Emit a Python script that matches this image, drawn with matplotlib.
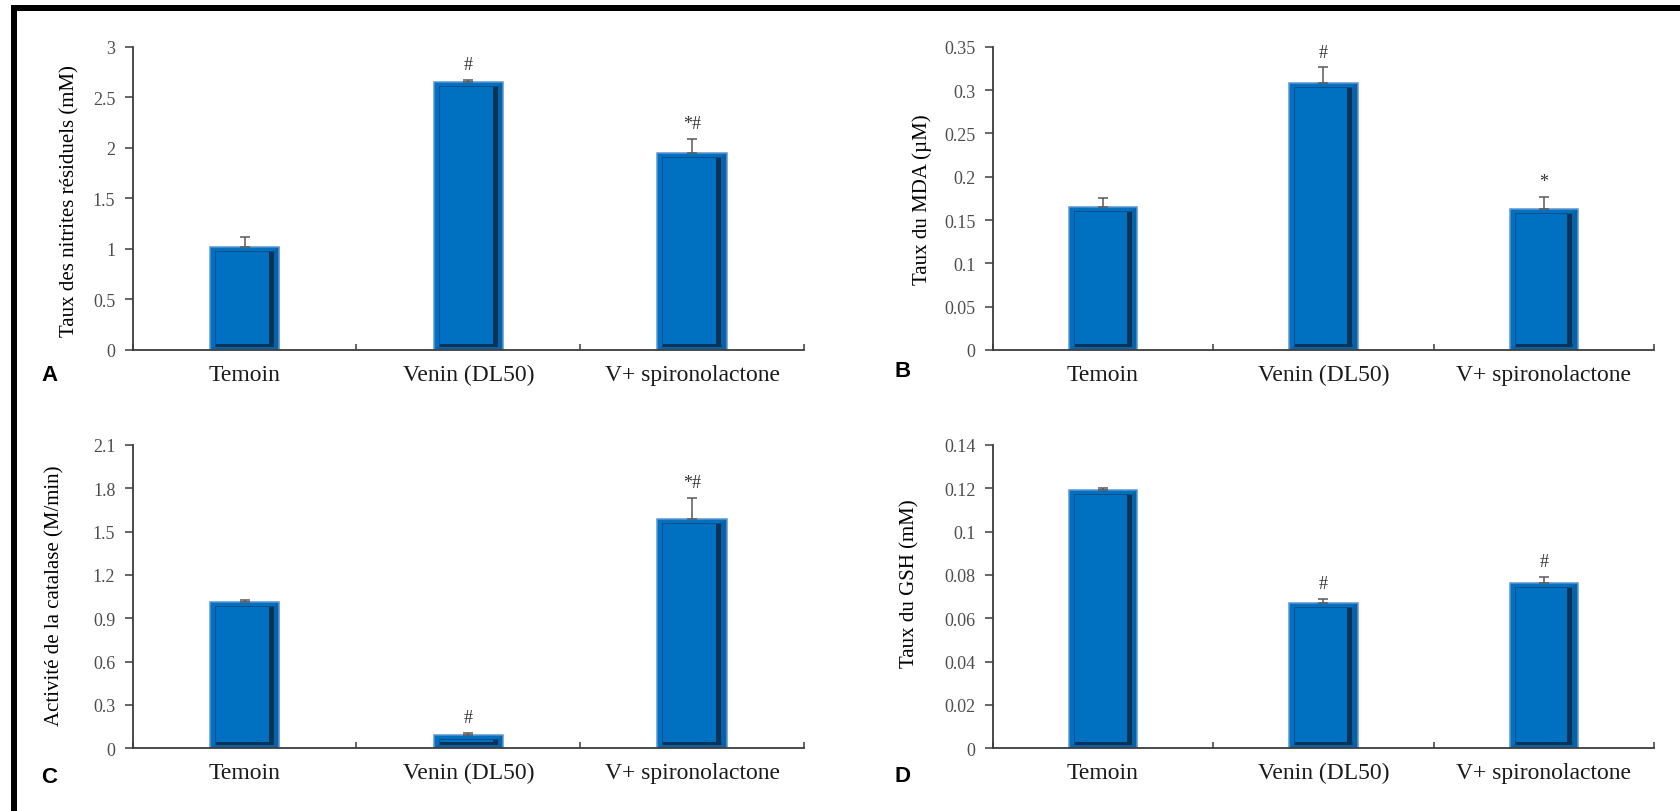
import numpy as np
import matplotlib
matplotlib.use("Agg")
import matplotlib.pyplot as plt
from matplotlib.patches import Polygon, Rectangle
from matplotlib.lines import Line2D
from matplotlib.transforms import IdentityTransform

plt.rcParams["font.family"] = ["Liberation Serif", "DejaVu Serif"]

# ---- data -------------------------------------------------------------
categories = ["Temoin", "Venin (DL50)", "V+ spironolactone"]

nitrites = [1.02, 2.65, 1.95]
nitrites_err = [0.10, 0.02, 0.14]
nitrites_marks = ["", "#", "*#"]
nitrites_ticks = [0, 0.5, 1, 1.5, 2, 2.5, 3]

mda = [0.165, 0.308, 0.163]
mda_err = [0.010, 0.018, 0.014]
mda_marks = ["", "#", "*"]
mda_ticks = [0, 0.05, 0.1, 0.15, 0.2, 0.25, 0.3, 0.35]

catalase = [1.01, 0.09, 1.59]
catalase_err = [0.017, 0.015, 0.14]
catalase_marks = ["", "#", "*#"]
catalase_ticks = [0, 0.3, 0.6, 0.9, 1.2, 1.5, 1.8, 2.1]

gsh = [0.119, 0.067, 0.0765]
gsh_err = [0.0012, 0.002, 0.0025]
gsh_marks = ["", "#", "#"]
gsh_ticks = [0, 0.02, 0.04, 0.06, 0.08, 0.1, 0.12, 0.14]

ylabels = [
    "Taux des nitrites résiduels (mM)",
    "Taux du MDA (µM)",
    "Activité de la catalase (M/min)",
    "Taux du GSH (mM)",
]
panel_letters = ["A", "B", "C", "D"]

# ---- style ------------------------------------------------------------
W, H = 1680, 812
FACE = "#0070C0"
EDGE = "#5d96d2"
RING = "#0862a8"
DARK = "#0b3358"
THIN = "#0d4f8a"
AXIS = "#3c3c3c"
BAR_W = 0.31

fig = plt.figure(figsize=(W / 100, H / 100), dpi=100)


def px_axes(left, top, right, bottom):
    return fig.add_axes([left / W, 1 - bottom / H, (right - left) / W, (bottom - top) / H])


def bevel(ax, bars):
    """Draw the raised-bevel look of each bar in pixel space."""
    ident = IdentityTransform()
    px = 0.72  # points per pixel at 100 dpi
    for r in bars:
        x0, y0, w, h = r.get_x(), r.get_y(), r.get_width(), r.get_height()
        (X0, Y0), (X1, Y1) = ax.transData.transform([(x0, y0), (x0 + w, y0 + h)])
        dr, db, dl, dt = 6, 4, 5, 4
        yb = Y0 + db + 3
        yt = max(Y1 - dt, yb + 1)
        right = [(X1 - dr, Y0 + db), (X1, Y0), (X1, Y1), (X1 - dr, yt)]
        bottom = [(X0, Y0), (X1, Y0), (X1 - dr, Y0 + db), (X0 + dl, Y0 + db)]
        for pts in (right, bottom):
            ax.add_artist(Polygon(pts, closed=True, fc=RING, ec="none",
                                  transform=ident, zorder=2.1))
        # dark inner band along the right and bottom
        ax.add_artist(Line2D([X1 - dr - 2.5] * 2, [Y0 + db, yt], color=DARK,
                             lw=5 * px, transform=ident, zorder=2.2,
                             solid_capstyle="butt"))
        ax.add_artist(Line2D([X0 + dl, X1 - dr], [Y0 + db + 1.5] * 2, color=DARK,
                             lw=3 * px, transform=ident, zorder=2.2,
                             solid_capstyle="butt"))
        # thin inner outline on the left and top
        ax.add_artist(Line2D([X0 + dl] * 2, [Y0 + db, yt], color=THIN,
                             lw=1.0 * px, transform=ident, zorder=2.2))
        ax.add_artist(Line2D([X0 + dl, X1 - dr - 5], [yt] * 2, color=THIN,
                             lw=1.0 * px, transform=ident, zorder=2.2))


def draw_panel(ax, values, errors, marks, ticks, ylabel, label_pos):
    n = len(categories)
    x = np.arange(n) + 0.5
    ax.set_xlim(0, n)
    ax.set_ylim(ticks[0], ticks[-1])

    bars = ax.bar(x, values, width=BAR_W, color=FACE, edgecolor="none", zorder=2)
    bevel(ax, bars)
    ax.bar(x, values, width=BAR_W, fill=False, edgecolor=EDGE, linewidth=1.1, zorder=2.4)

    ax.errorbar(x, values, yerr=[np.zeros(n), errors], fmt="none", ecolor="#595959",
                elinewidth=1.1, capsize=3.3, capthick=1.1, zorder=3)

    for xi, v, e, m in zip(x, values, errors, marks):
        if m:
            ax.annotate(m, (xi, v + e), xytext=(0, 5), textcoords="offset points",
                        ha="center", va="bottom", fontsize=13, color="#333333")

    for side in ("top", "right"):
        ax.spines[side].set_visible(False)
    for side in ("left", "bottom"):
        ax.spines[side].set_color(AXIS)
        ax.spines[side].set_linewidth(1.3)

    ax.set_yticks(ticks)
    ax.set_yticklabels(["{:g}".format(t) for t in ticks])
    ax.tick_params(axis="y", direction="out", length=5.5, width=1.1, color=AXIS,
                   pad=7, labelsize=13, labelcolor="#4d4d4d")

    # boundary ticks on the category axis, names at the bar centres
    ax.set_xticks(np.arange(n + 1))
    ax.set_xticklabels([])
    ax.set_xticks(x, minor=True)
    ax.set_xticklabels(categories, minor=True)
    ax.tick_params(axis="x", which="major", direction="in", length=4.5, width=1.1,
                   color=AXIS)
    ax.tick_params(axis="x", which="minor", length=0, pad=10, labelsize=17,
                   labelcolor="#1a1a1a")

    ax.set_ylabel(ylabel, fontsize=15, color="black")
    ax.yaxis.set_label_coords(*label_pos)
    ax.set_facecolor("white")


axA = px_axes(132.7, 47.7, 804, 351)
axB = px_axes(992.7, 47.7, 1654, 351)
axC = px_axes(132.7, 446, 804, 749.3)
axD = px_axes(992.7, 446, 1654, 749.3)

draw_panel(axA, nitrites, nitrites_err, nitrites_marks, nitrites_ticks, ylabels[0], (-0.079, 0.495))
draw_panel(axB, mda, mda_err, mda_marks, mda_ticks, ylabels[1], (-0.092, 0.498))
draw_panel(axC, catalase, catalase_err, catalase_marks, catalase_ticks, ylabels[2], (-0.101, 0.507))
draw_panel(axD, gsh, gsh_err, gsh_marks, gsh_ticks, ylabels[3], (-0.110, 0.545))

# panel letters
for letter, (lx, ly) in zip(panel_letters, [(50, 381), (903, 377), (49, 783), (903, 782)]):
    fig.text(lx / W, 1 - ly / H, letter, family="Liberation Sans", fontweight="bold",
             fontsize=16, ha="center", va="baseline", color="black")

# heavy frame along the top and left edges
fig.add_artist(Rectangle((11 / W, 0), 6 / W, (H - 6) / H, transform=fig.transFigure,
                         facecolor="black", edgecolor="none"))
fig.add_artist(Rectangle((11 / W, 1 - 12 / H), (W - 11) / W, 6 / H, transform=fig.transFigure,
                         facecolor="black", edgecolor="none"))

fig.savefig("out.png", dpi=100, facecolor="white")
